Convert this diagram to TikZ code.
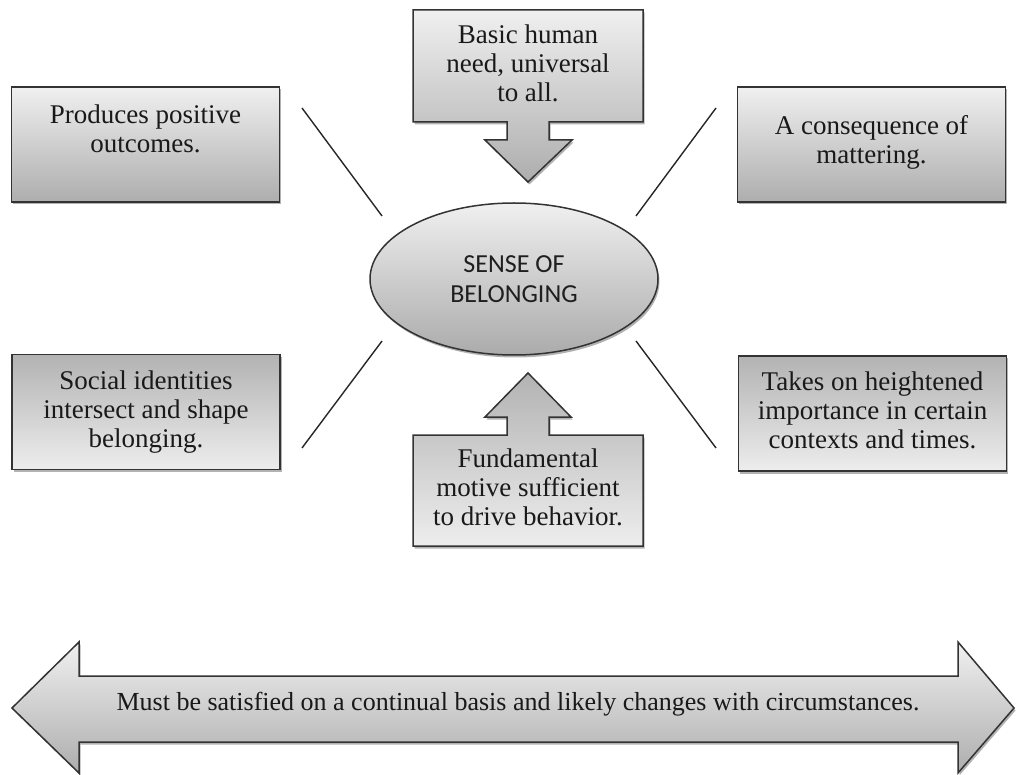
\documentclass[tikz,border=0pt]{standalone}
\usepackage{fontspec}
\setmainfont{Liberation Serif}
\newfontfamily\labelsans{Carlito}
\usetikzlibrary{shapes.geometric,shadows}

\begin{document}
\begin{tikzpicture}[x=1pt,y=-1pt,
  outline/.style={draw=black!80, line width=1.5pt, line join=miter},
  shadelight/.style={top color=black!6, bottom color=black!32},
  shadedark/.style={top color=black!30, bottom color=black!7},
  softshadow/.style={drop shadow={shadow xshift=1.5pt, shadow yshift=-2.5pt, opacity=0.3, fill=black}},
  panel/.style={outline, softshadow, rectangle, minimum width=268pt, minimum height=115pt, inner sep=0pt},
  blurb/.style={align=center, font=\fontsize{27}{29}\selectfont, text=black!90, inner sep=0pt},
  connector/.style={draw=black!85, line width=1.4pt}
]
\useasboundingbox (0,0) rectangle (1017,775);

% corner panels
\node[panel, shadelight] (pos) at (145.5,144.5) {};
\node[panel, shadelight] (mat) at (871.5,144.5) {};
\node[panel, shadedark]  (soc) at (146,412) {};
\node[panel, shadedark]  (ctx) at (872.5,413.5) {};

\node[blurb] (posT) at (145.5,129) {Produces positive\\outcomes.};
\node[blurb] (matT) at (871.5,142) {A consequence of\\mattering.};
\node[blurb] (socT) at (146,412) {Social identities\\intersect and shape\\belonging.};
\node[blurb] (ctxT) at (872.5,410) {Takes on heightened\\importance in certain\\contexts and times.};

% central ellipse
\node[ellipse, outline, softshadow, top color=black!6, bottom color=black!33,
      minimum width=288pt, minimum height=152pt, inner sep=0pt,
      align=center, font=\labelsans\fontsize{26}{30}\selectfont, text=black!88]
  (core) at (514,279) {SENSE OF\\BELONGING};

% callout pointing down onto the ellipse
\path[outline, shadelight, softshadow]
  (413,10) -- (643,10) -- (643,122) -- (549,122) -- (549,140) -- (572,140)
  -- (528,182) -- (485,140) -- (507,140) -- (507,122) -- (413,122) -- cycle;
\node[blurb] (need) at (528,63) {Basic human\\need, universal\\to all.};

% callout pointing up onto the ellipse
\path[outline, shadedark, softshadow]
  (528,373) -- (571,417) -- (549,417) -- (549,435) -- (643,435) -- (643,546)
  -- (413,546) -- (413,435) -- (507,435) -- (507,417) -- (485,417) -- cycle;
\node[blurb] (motive) at (528,487) {Fundamental\\motive sufficient\\to drive behavior.};

% spokes between the ellipse and the corner panels
\coordinate (s1a) at (302,108); \coordinate (s1b) at (382,216);
\coordinate (s2a) at (716,108); \coordinate (s2b) at (636,216);
\coordinate (s3a) at (382,341); \coordinate (s3b) at (302,448);
\coordinate (s4a) at (636,341); \coordinate (s4b) at (716,448);
\draw[connector] (s1a) -- (s1b);
\draw[connector] (s2a) -- (s2b);
\draw[connector] (s3a) -- (s3b);
\draw[connector] (s4a) -- (s4b);

% double-headed arrow along the bottom
\path[outline, shadelight, softshadow]
  (12,708) -- (79,642) -- (79,676) -- (958,676) -- (958,642) -- (1014,708)
  -- (958,773) -- (958,742) -- (79,742) -- (79,773) -- cycle;
\node[blurb, font=\fontsize{26}{28}\selectfont] (basis) at (518,704)
  {Must be satisfied on a continual basis and likely changes with circumstances.};
\end{tikzpicture}
\end{document}
